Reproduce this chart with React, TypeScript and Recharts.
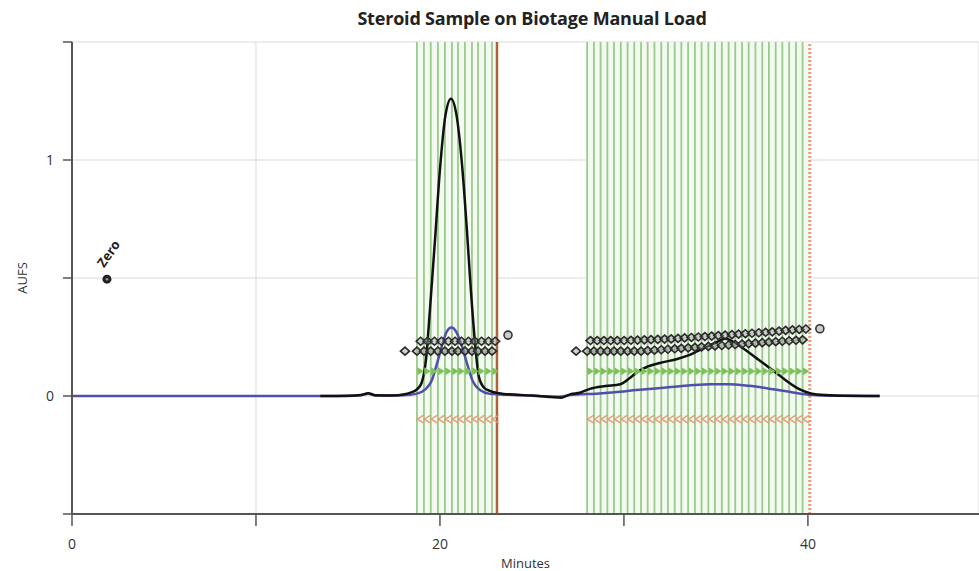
import React from 'react';
import {
  ComposedChart,
  Line,
  Scatter,
  XAxis,
  YAxis,
  CartesianGrid,
  ReferenceLine,
  ReferenceArea,
} from 'recharts';

// detector traces (minutes, AUFS)
const blackTrace = [
  [13.5, 0], [15.0, 0.001], [15.7, 0.004], [16.1, 0.012], [16.5, 0.003], [17.5, 0.002],
  [18.0, 0.006], [18.4, 0.014], [18.75, 0.028], [19.0, 0.055], [19.25, 0.16], [19.45, 0.36],
  [19.73, 0.66], [20.0, 0.96], [20.3, 1.19], [20.6, 1.26], [20.9, 1.19], [21.2, 0.98],
  [21.45, 0.72], [21.68, 0.45], [21.9, 0.23], [22.12, 0.08], [22.4, 0.035], [22.7, 0.022],
  [23.2, 0.012], [24.0, 0.006], [25.0, 0.002], [26.0, -0.004], [26.6, -0.007], [27.1, 0.008],
  [27.6, 0.014], [28.15, 0.03], [29.0, 0.042], [29.8, 0.05], [30.3, 0.075], [30.7, 0.1],
  [31.3, 0.125], [31.96, 0.14], [32.9, 0.157], [33.5, 0.172], [34.0, 0.19], [34.6, 0.212],
  [35.2, 0.234], [35.5, 0.243], [35.9, 0.232], [36.3, 0.212], [36.7, 0.19], [37.3, 0.155],
  [37.9, 0.12], [38.5, 0.085], [39.0, 0.055], [39.5, 0.03], [39.9, 0.017], [40.5, 0.006],
  [41.5, 0.002], [43.9, 0],
];

const blueTrace = [
  [0, 0], [15.0, 0], [15.7, 0.003], [16.1, 0.01], [16.5, 0.002], [18.0, 0.003],
  [18.75, 0.01], [19.2, 0.028], [19.55, 0.065], [19.85, 0.14], [20.1, 0.21], [20.35, 0.27],
  [20.63, 0.29], [20.9, 0.27], [21.2, 0.21], [21.5, 0.13], [21.8, 0.06], [22.2, 0.024],
  [22.7, 0.009], [24.0, 0.004], [25.5, -0.001], [26.5, -0.003], [27.1, 0.004], [28.5, 0.01],
  [29.5, 0.016], [30.7, 0.025], [32.0, 0.034], [33.5, 0.044], [34.7, 0.05], [35.7, 0.05],
  [36.8, 0.043], [38.0, 0.03], [39.0, 0.018], [39.7, 0.008], [40.5, 0.003], [41.5, 0.001],
  [43.9, 0],
];

// fraction collection lines
const fractions1 = [18.75, 19.13, 19.5, 19.89, 20.27, 20.65, 20.98, 21.36, 21.74, 22.07, 22.45, 22.83];
const fractionEnd1 = 23.1;
const fractions2 = [
  28.0, 28.37, 28.73, 29.1, 29.46, 29.83, 30.2, 30.56, 30.93, 31.29, 31.66, 32.03, 32.39,
  32.76, 33.12, 33.49, 33.86, 34.22, 34.59, 34.95, 35.32, 35.69, 36.05, 36.42, 36.78, 37.15,
  37.52, 37.88, 38.25, 38.61, 38.98, 39.35, 39.71,
];
const fractionEnd2 = 40.1;

// tube markers: two staggered rows above the peaks
const tubeLow1 = [18.1, ...fractions1].map(t => ({ t, v: 0.19 }));
const tubeHigh1 = [18.95, 19.33, 19.7, 20.08, 20.46, 20.82, 21.17, 21.55, 21.9, 22.26, 22.64, 23.0].map(t => ({ t, v: 0.232 }));
const tubeEnd1 = [{ t: 23.7, v: 0.258 }];

const tubeLevelsLow2 = [
  0.19, 0.19, 0.19, 0.19, 0.19, 0.19, 0.19, 0.19, 0.19, 0.19, 0.192, 0.194, 0.196, 0.198,
  0.2, 0.202, 0.204, 0.206, 0.208, 0.21, 0.212, 0.214, 0.216, 0.218, 0.22, 0.222, 0.224,
  0.226, 0.228, 0.23, 0.232, 0.234, 0.236, 0.238,
];
const tubeLevelsHigh2 = [
  0.235, 0.235, 0.235, 0.235, 0.235, 0.235, 0.236, 0.237, 0.238, 0.239, 0.24, 0.241, 0.242,
  0.244, 0.246, 0.248, 0.25, 0.252, 0.254, 0.256, 0.258, 0.26, 0.262, 0.264, 0.266, 0.268,
  0.27, 0.272, 0.275, 0.278, 0.28, 0.282, 0.284,
];
const tubeLow2 = [27.4, ...fractions2].map((t, i) => ({ t, v: tubeLevelsLow2[i] }));
const tubeHigh2 = fractions2.map((t, i) => ({ t: t + 0.18, v: tubeLevelsHigh2[i] }));
const tubeEnd2 = [{ t: 40.65, v: 0.285 }];

const greenRow = [...fractions1, ...fractions2].map(t => ({ t: t + 0.18, v: 0.105 }));
const orangeRow = [...fractions1, ...fractions2].map(t => ({ t: t + 0.18, v: -0.098 }));

const zeroMark = [{ t: 1.9, v: 0.495 }];

const xTicks = [0, 10, 20, 30, 40];
const xLabels = [0, 20, 40];
const yTicks = [-0.5, 0, 0.5, 1, 1.5];
const yLabels = [0, 1];

const toPoints = (rows: number[][]) => rows.map(([t, v]) => ({ t, v }));

const Diamond = ({ cx, cy }: any) => (
  <path
    d={`M${cx - 4.5},${cy} L${cx},${cy - 4} L${cx + 4.5},${cy} L${cx},${cy + 4} Z`}
    fill="#999"
    fillOpacity={0.45}
    stroke="#2a2a2a"
    strokeWidth={1.6}
  />
);

const EndCircle = ({ cx, cy }: any) => (
  <circle cx={cx} cy={cy} r={4} fill="#ccc" stroke="#333" strokeWidth={1.6} />
);

const GreenTri = ({ cx, cy }: any) => (
  <path d={`M${cx - 3},${cy - 4} L${cx + 3.5},${cy} L${cx - 3},${cy + 4} Z`} fill="#7cc258" />
);

const OrangeChevron = ({ cx, cy }: any) => (
  <path
    d={`M${cx + 3.5},${cy - 4} L${cx - 3},${cy} L${cx + 3.5},${cy + 4}`}
    fill="none"
    stroke="#e89a78"
    strokeWidth={1.4}
  />
);

const ZeroMarker = ({ cx, cy }: any) => (
  <g>
    <circle cx={cx} cy={cy} r={4.5} fill="#222" />
    <circle cx={cx} cy={cy} r={1.3} fill="#999" />
    <text
      x={cx - 3}
      y={cy - 11}
      transform={`rotate(-55 ${cx - 3} ${cy - 11})`}
      fontSize={13}
      fontWeight="bold"
      fontFamily="Open Sans, sans-serif"
      fill="#222"
    >
      Zero
    </text>
  </g>
);

export default function App() {
  const font = 'Open Sans, sans-serif';
  return (
    <div style={{ position: 'absolute', left: 0, top: 0, width: 979, height: 571, background: '#fff', fontFamily: font }}>
      <div
        style={{
          position: 'absolute',
          left: 332,
          top: 6,
          width: 400,
          textAlign: 'center',
          fontSize: 18,
          fontWeight: 'bold',
          color: '#222',
          letterSpacing: -0.2,
        }}
      >
        Steroid Sample on Biotage Manual Load
      </div>
      <ComposedChart width={979} height={571} margin={{ top: 42, right: 0, left: 0, bottom: 0 }}>
        <CartesianGrid stroke="#d9d9d9" strokeWidth={1} />
        <ReferenceArea x1={fractions1[0]} x2={fractionEnd1} fill="#f3faef" fillOpacity={1} stroke="none" zIndex={-60} />
        <ReferenceArea x1={fractions2[0]} x2={fractionEnd2} fill="#f3faef" fillOpacity={1} stroke="none" zIndex={-60} />
        {[...fractions1, ...fractions2].map(t => (
          <ReferenceLine key={t} x={t} stroke="#9cc98f" strokeWidth={1.8} zIndex={-50} />
        ))}
        <ReferenceLine x={fractionEnd1} stroke="#b0603a" strokeWidth={2.5} zIndex={-50} />
        <ReferenceLine x={fractionEnd2} stroke="#f09a84" strokeWidth={3} strokeDasharray="2 2" zIndex={-50} />
        <XAxis
          type="number"
          dataKey="t"
          domain={[0, 49.3]}
          ticks={xTicks}
          interval={0}
          allowDataOverflow
          height={57}
          tickSize={12}
          tickMargin={13}
          tickFormatter={(v: number) => (xLabels.includes(v) ? String(v) : '')}
          tick={{ fill: '#333', fontSize: 14, fontFamily: font }}
          axisLine={{ stroke: '#555', strokeWidth: 2 }}
          tickLine={{ stroke: '#555', strokeWidth: 1.5 }}
          label={{ value: 'Minutes', position: 'insideBottom', offset: 3, fill: '#333', fontSize: 13, fontFamily: font }}
        />
        <YAxis
          type="number"
          dataKey="v"
          domain={[-0.5, 1.5]}
          ticks={yTicks}
          interval={0}
          allowDataOverflow
          width={72}
          tickSize={9}
          tickMargin={9}
          tickFormatter={(v: number) => (yLabels.includes(v) ? String(v) : '')}
          tick={{ fill: '#333', fontSize: 14, fontFamily: font }}
          axisLine={{ stroke: '#555', strokeWidth: 2 }}
          tickLine={{ stroke: '#555', strokeWidth: 1.5 }}
          label={{ value: 'AUFS', angle: -90, position: 'insideLeft', offset: 22, fill: '#333', fontSize: 13, fontFamily: font, style: { textAnchor: 'middle' } }}
        />
        <Line data={toPoints(blueTrace)} dataKey="v" type="monotone" stroke="#4f4fae" strokeWidth={2.5} dot={false} activeDot={false} isAnimationActive={false} />
        <Line data={toPoints(blackTrace)} dataKey="v" type="monotone" stroke="#111" strokeWidth={2.5} dot={false} activeDot={false} isAnimationActive={false} />
        <Scatter data={greenRow} dataKey="v" shape={GreenTri} isAnimationActive={false} />
        <Scatter data={orangeRow} dataKey="v" shape={OrangeChevron} isAnimationActive={false} />
        <Scatter data={tubeLow1} dataKey="v" shape={Diamond} isAnimationActive={false} />
        <Scatter data={tubeHigh1} dataKey="v" shape={Diamond} isAnimationActive={false} />
        <Scatter data={tubeEnd1} dataKey="v" shape={EndCircle} isAnimationActive={false} />
        <Scatter data={tubeLow2} dataKey="v" shape={Diamond} isAnimationActive={false} />
        <Scatter data={tubeHigh2} dataKey="v" shape={Diamond} isAnimationActive={false} />
        <Scatter data={tubeEnd2} dataKey="v" shape={EndCircle} isAnimationActive={false} />
        <Scatter data={zeroMark} dataKey="v" shape={ZeroMarker} isAnimationActive={false} />
      </ComposedChart>
    </div>
  );
}
